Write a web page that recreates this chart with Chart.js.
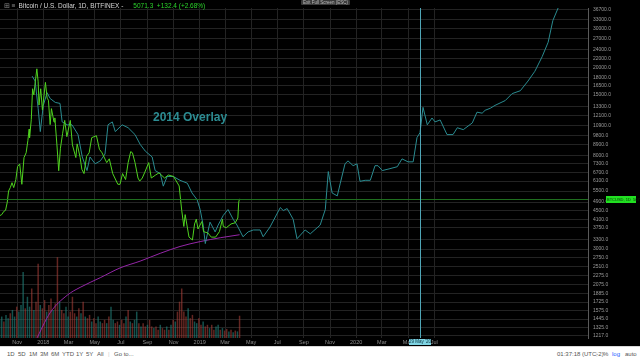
<!DOCTYPE html>
<html>
<head>
<meta charset="utf-8">
<script src="https://cdn.jsdelivr.net/npm/chart.js@4.4.1/dist/chart.umd.min.js"></script>
<style>
  body { margin: 0; width: 640px; height: 360px; overflow: hidden; background: #000; position: relative; font-family: Arial, "Liberation Sans", sans-serif; }
  #c { position: absolute; left: 0; top: 0; }
  .title { position: absolute; left: 4px; top: 2px; font-size: 6.5px; color: #d6d6d6; white-space: nowrap; }
  .title .ic { color: #888; margin-right: 3px; }
  .title .px { color: #2bd42b; margin-left: 10px; }
  .esc { position: absolute; left: 301px; top: 0; font-size: 4.5px; color: #bbb; background: #3a3a3a; padding: 0 2px; border-radius: 1px; }
  .overlay-label { position: absolute; left: 153px; top: 110px; font-size: 12px; font-weight: bold; color: #2c8c92; }
  .toolbar { position: absolute; left: 0; top: 346px; width: 640px; height: 14px; background: #fff; border-top: 1px solid #d8d8d8; font-size: 6px; color: #555; }
  .toolbar span { position: absolute; top: 4px; }
</style>
</head>
<body>
<canvas id="c" width="640" height="346"></canvas>
<div class="title"><span class="ic">&#8862; &#8801;</span>Bitcoin / U.S. Dollar, 1D, BITFINEX -<span class="px">5071.3 &nbsp;+132.4 (+2.68%)</span></div>
<div class="esc">Exit Full Screen (ESC)</div>
<div class="overlay-label">2014 Overlay</div>
<div class="toolbar">
  <span style="left:7px">1D</span><span style="left:18px">5D</span><span style="left:29px">1M</span>
  <span style="left:40px">3M</span><span style="left:51px">6M</span><span style="left:62px">YTD</span>
  <span style="left:76px">1Y</span><span style="left:86px">5Y</span><span style="left:97px">All</span>
  <span style="left:108px;color:#ccc">|</span><span style="left:114px">Go to...</span>
  <span style="left:557px">01:37:18 (UTC-2)</span><span style="left:596px;color:#ccc">|</span>
  <span style="left:603px">%</span><span style="left:612px;color:#2962ff">log</span><span style="left:625px">auto</span>
</div>
<script>
// BTC daily (Bitfinex)
const priceDates = ['2017-09-21','2017-09-26','2017-10-01','2017-10-05','2017-10-09','2017-10-12','2017-10-16','2017-10-20','2017-10-24','2017-10-29',
  '2017-11-02','2017-11-07','2017-11-12','2017-11-17','2017-11-22','2017-11-26','2017-11-29','2017-11-30','2017-12-04','2017-12-07',
  '2017-12-10','2017-12-13','2017-12-17','2017-12-20','2017-12-22','2017-12-26','2017-12-30','2018-01-06','2018-01-10','2018-01-13',
  '2018-01-17','2018-01-20','2018-01-26','2018-01-28','2018-02-02','2018-02-06','2018-02-10','2018-02-15','2018-02-20','2018-02-25',
  '2018-03-05','2018-03-10','2018-03-18','2018-03-21','2018-03-28','2018-04-01','2018-04-06','2018-04-12','2018-04-18','2018-04-24',
  '2018-05-05','2018-05-12','2018-05-18','2018-05-29','2018-06-04','2018-06-12','2018-06-24','2018-06-29','2018-07-05','2018-07-12',
  '2018-07-18','2018-07-24','2018-07-28','2018-08-03','2018-08-10','2018-08-14','2018-08-20','2018-08-26','2018-09-04','2018-09-10',
  '2018-09-20','2018-09-28','2018-10-11','2018-10-20','2018-11-01','2018-11-14','2018-11-20','2018-11-25','2018-11-28','2018-12-07',
  '2018-12-15','2018-12-20','2018-12-24','2018-12-28','2019-01-06','2019-01-10','2019-01-20','2019-01-28','2019-02-07','2019-02-16',
  '2019-02-23','2019-02-25','2019-03-04','2019-03-15','2019-03-25','2019-03-31','2019-04-02','2019-04-04'];
const prices = [4250,4300,4450,4500,4900,5500,5700,6000,5700,6200,
  7100,7300,5900,7800,8200,9300,10500,9600,11600,16000,
  15000,17000,19700,17200,13500,16000,12800,17100,14500,14200,
  11000,13000,11300,11800,8800,6800,8600,10000,11500,9700,
  11500,8900,7800,9000,7800,6900,6600,7900,8200,9600,
  9800,8500,8200,7400,7700,6600,5900,5900,6600,6200,
  7400,8300,8200,7400,6300,6100,6300,6700,7400,6300,
  6500,6650,6300,6500,6400,5800,4500,3800,4300,3400,
  3300,3900,4100,3700,4000,3600,3550,3400,3400,3600,
  4100,3800,3750,3900,3950,4150,4900,5071.3];

// 2014 cycle, shifted onto the current dates
const overlayDates = ['2017-12-06','2017-12-13','2017-12-20','2017-12-25','2018-01-01','2018-01-10','2018-01-17','2018-01-29','2018-02-09','2018-02-14',
  '2018-02-26','2018-03-09','2018-03-23','2018-04-02','2018-04-13','2018-04-20','2018-05-02','2018-05-14','2018-05-25','2018-06-01',
  '2018-06-11','2018-06-18','2018-07-04','2018-07-18','2018-08-03','2018-08-15','2018-08-27','2018-09-12','2018-09-19','2018-10-01',
  '2018-10-08','2018-10-17','2018-10-31','2018-11-16','2018-12-03','2018-12-14','2018-12-26','2019-01-02','2019-01-09','2019-01-14',
  '2019-01-25','2019-02-06','2019-02-13','2019-02-25','2019-03-08','2019-03-20','2019-03-29','2019-04-12','2019-04-24','2019-05-06',
  '2019-05-22','2019-05-29','2019-06-14','2019-07-08','2019-07-15','2019-07-24','2019-08-07','2019-08-16','2019-09-04','2019-09-16',
  '2019-10-09','2019-10-21','2019-10-28','2019-11-06','2019-11-18','2019-11-25','2019-12-06','2019-12-13','2019-12-25','2020-01-03',
  '2020-01-10','2020-01-22','2020-02-03','2020-02-14','2020-02-21','2020-03-02','2020-03-20','2020-04-06','2020-04-17','2020-05-01',
  '2020-05-13','2020-05-22','2020-05-29','2020-06-05','2020-06-15','2020-06-26','2020-07-03','2020-07-15','2020-07-31','2020-08-14',
  '2020-08-24','2020-09-07','2020-09-28','2020-10-09','2020-10-21','2020-10-28','2020-11-09','2020-11-20','2020-12-14','2020-12-30',
  '2021-01-18','2021-02-05','2021-02-21','2021-03-10','2021-03-24','2021-04-04','2021-04-21'];
const overlayPrices = [18245,17340,13050,10230,13450,15350,14450,13870,13730,11320,
  10980,10980,9915,7850,6810,7850,7310,7535,8093,10980,
  11320,10230,10980,10650,9915,8955,8343,7850,6810,6603,
  5787,6405,6405,6152,5969,5390,5020,4535,3855,3178,
  3975,3590,3855,4266,4535,4098,3855,3412,3590,3663,
  3663,3412,3778,4628,4488,4581,4098,3343,3663,3518,
  3855,4535,6740,5390,5228,5969,7310,7535,7166,7310,
  6088,6152,6152,7166,7166,6810,6948,7090,7695,7460,
  7460,9615,10110,13180,10980,11790,11320,11550,9915,9915,
  10650,10440,11200,12530,12400,12780,13050,13450,14150,15210,
  15670,17340,19195,22360,26000,32600,39100];

// long moving average (purple)
const maDates = ['2017-12-14','2018-01-17','2018-02-26','2018-03-28','2018-05-14','2018-06-29','2018-08-15','2018-10-01','2018-11-16','2019-01-02','2019-02-18','2019-04-04'];
const maValues = [1150,1544,1855,2012,2226,2464,2646,2871,3083,3245,3378,3485];

// volume (thousand BTC), one bar every volStepDays from volStart
const volStart = '2017-09-21';
const volStepDays = 5;
const volumes = [22,26,20,28,24,30,34,26,38,32, 40,80,36,50,38,60,34,44,90,40,
  36,46,32,40,48,34,42,98,44,34, 30,38,26,32,50,30,26,36,30,44,
  26,24,28,20,24,18,26,20,18,22, 18,26,38,22,18,20,16,22,18,26,
  34,20,18,22,32,18,14,18,14,16, 22,14,12,14,10,16,12,10,14,10,
  16,22,20,32,44,60,32,26,36,24, 28,20,18,24,16,20,14,16,12,16,
  10,14,16,10,12,9,11,8,10,7, 9,8,27];
const volSides = 'uuduuduuduuuduududduddudduddudduudddudududdudduudduduudduddududuududduddudduddudududddddudduudduddudduududdudududdudduu';

const yTickValues = [36700,33000,30000,27000,24000,22000,20000,18000,16500,15000,13300,12100,10900,9800,8900,8000,7300,6700,6100,5500,
  4900,4500,4100,3750,3300,3000,2750,2510,2275,2075,1885,1725,1575,1445,1325,1217];
const xTickDates = ['2017-11-01','2018-01-01','2018-03-01','2018-05-01','2018-07-01','2018-09-01','2018-11-01','2019-01-01','2019-03-01',
  '2019-05-01','2019-07-01','2019-09-01','2019-11-01','2020-01-01','2020-03-01','2020-05-01','2020-07-01'];
const xTickLabels = ['Nov','2018','Mar','May','Jul','Sep','Nov','2019','Mar','May','Jul','Sep','Nov','2020','Mar','May','Jul'];

const lastPrice = 5071.3;
const crosshairDate = '2020-05-29';
const crosshairLabel = "29 May '20";

// days since 1 Nov 2017
const day = (s) => (Date.parse(s) - Date.parse('2017-11-01')) / 864e5;
const xy = (dates, vals) => dates.map((d, i) => ({ x: day(d), y: vals[i] }));

const tickLabelAt = {};
xTickDates.forEach((d, i) => { tickLabelAt[day(d)] = xTickLabels[i]; });

const tvExtras = {
    id: 'tvExtras',
    beforeDraw(chart) {
        const ctx = chart.ctx;
        ctx.save();
        ctx.fillStyle = '#000';
        ctx.fillRect(0, 0, chart.width, chart.height);
        ctx.restore();
    },
    afterDatasetsDraw(chart) {
        const { ctx, chartArea: a, scales } = chart;
        ctx.save();
        ctx.lineWidth = 1;
        // last price line
        const py = Math.round(scales.y.getPixelForValue(lastPrice)) + 0.5;
        ctx.strokeStyle = '#1f6e1f';
        ctx.beginPath(); ctx.moveTo(a.left, py); ctx.lineTo(a.right, py); ctx.stroke();
        // crosshair
        const cx = Math.round(scales.x.getPixelForValue(day(crosshairDate))) + 0.5;
        ctx.strokeStyle = '#4fa6b6';
        ctx.beginPath(); ctx.moveTo(cx, a.top); ctx.lineTo(cx, a.bottom); ctx.stroke();
        ctx.restore();
    },
    afterDraw(chart) {
        const { ctx, chartArea: a, scales } = chart;
        ctx.save();
        // price tag on the axis
        const py = Math.round(scales.y.getPixelForValue(lastPrice));
        ctx.fillStyle = '#22e022';
        ctx.fillRect(606, py - 3, 30, 7);
        ctx.fillStyle = '#063006';
        ctx.font = '4px Arial';
        ctx.textBaseline = 'middle';
        ctx.fillText('BTCUSD, 1D  ' + lastPrice.toFixed(1), 607, py + 0.5);
        // crosshair date tag
        const cx = scales.x.getPixelForValue(day(crosshairDate));
        ctx.fillStyle = '#7fd4e3';
        ctx.fillRect(cx - 11, a.bottom + 1, 22, 6);
        ctx.fillStyle = '#0b3440';
        ctx.textAlign = 'center';
        ctx.font = '4.5px Arial';
        ctx.fillText(crosshairLabel, cx, a.bottom + 4);
        ctx.restore();
    },
};

new Chart(document.getElementById('c'), {
    type: 'line',
    data: {
        datasets: [
            {
                data: xy(priceDates, prices),
                borderColor: '#4fd21f',
                borderWidth: 1,
                pointRadius: 0,
                order: 1,
            },
            {
                data: xy(overlayDates, overlayPrices),
                borderColor: '#2a8b90',
                borderWidth: 1,
                pointRadius: 0,
                order: 2,
            },
            {
                data: xy(maDates, maValues),
                borderColor: '#9526a8',
                borderWidth: 1,
                pointRadius: 0,
                cubicInterpolationMode: 'monotone',
                order: 3,
            },
            {
                type: 'bar',
                yAxisID: 'yv',
                data: volumes.map((v, i) => ({ x: day(volStart) + i * volStepDays, y: v })),
                backgroundColor: volumes.map((_, i) =>
                    volSides[i] === 'u' ? 'rgba(32,125,118,0.65)' : 'rgba(165,62,55,0.6)'
                ),
                barPercentage: 0.7,
                categoryPercentage: 1,
                grouped: false,
                order: 5,
            },
        ],
    },
    options: {
        responsive: false,
        animation: false,
        devicePixelRatio: 1,
        layout: { padding: 0 },
        plugins: { legend: { display: false }, tooltip: { enabled: false } },
        scales: {
            x: {
                type: 'linear',
                min: -40,
                max: 1332,
                offset: false,
                grid: { color: '#232323', drawTicks: false, offset: false },
                border: { display: false },
                afterBuildTicks: (s) => { s.ticks = xTickDates.map((d) => ({ value: day(d) })); },
                afterFit: (s) => { s.height = 7; },
                ticks: {
                    autoSkip: false,
                    maxRotation: 0,
                    padding: 1,
                    color: '#8c8c8c',
                    font: { size: 5.5, family: 'Arial' },
                    callback: (v) => tickLabelAt[v] || '',
                },
            },
            y: {
                type: 'logarithmic',
                position: 'right',
                min: 1186,
                max: 37170,
                grid: { color: '#232323', drawTicks: false },
                border: { display: true, color: '#5a5a5a' },
                afterBuildTicks: (s) => { s.ticks = yTickValues.map((v) => ({ value: v })); },
                afterFit: (s) => { s.width = 52; },
                ticks: {
                    autoSkip: false,
                    padding: 5,
                    color: '#9a9a9a',
                    font: { size: 5, family: 'Arial' },
                    callback: (v) => Number(v).toFixed(1),
                },
            },
            yv: {
                display: false,
                min: 0,
                max: 400,
            },
        },
    },
    plugins: [tvExtras],
});
</script>
</body>
</html>
